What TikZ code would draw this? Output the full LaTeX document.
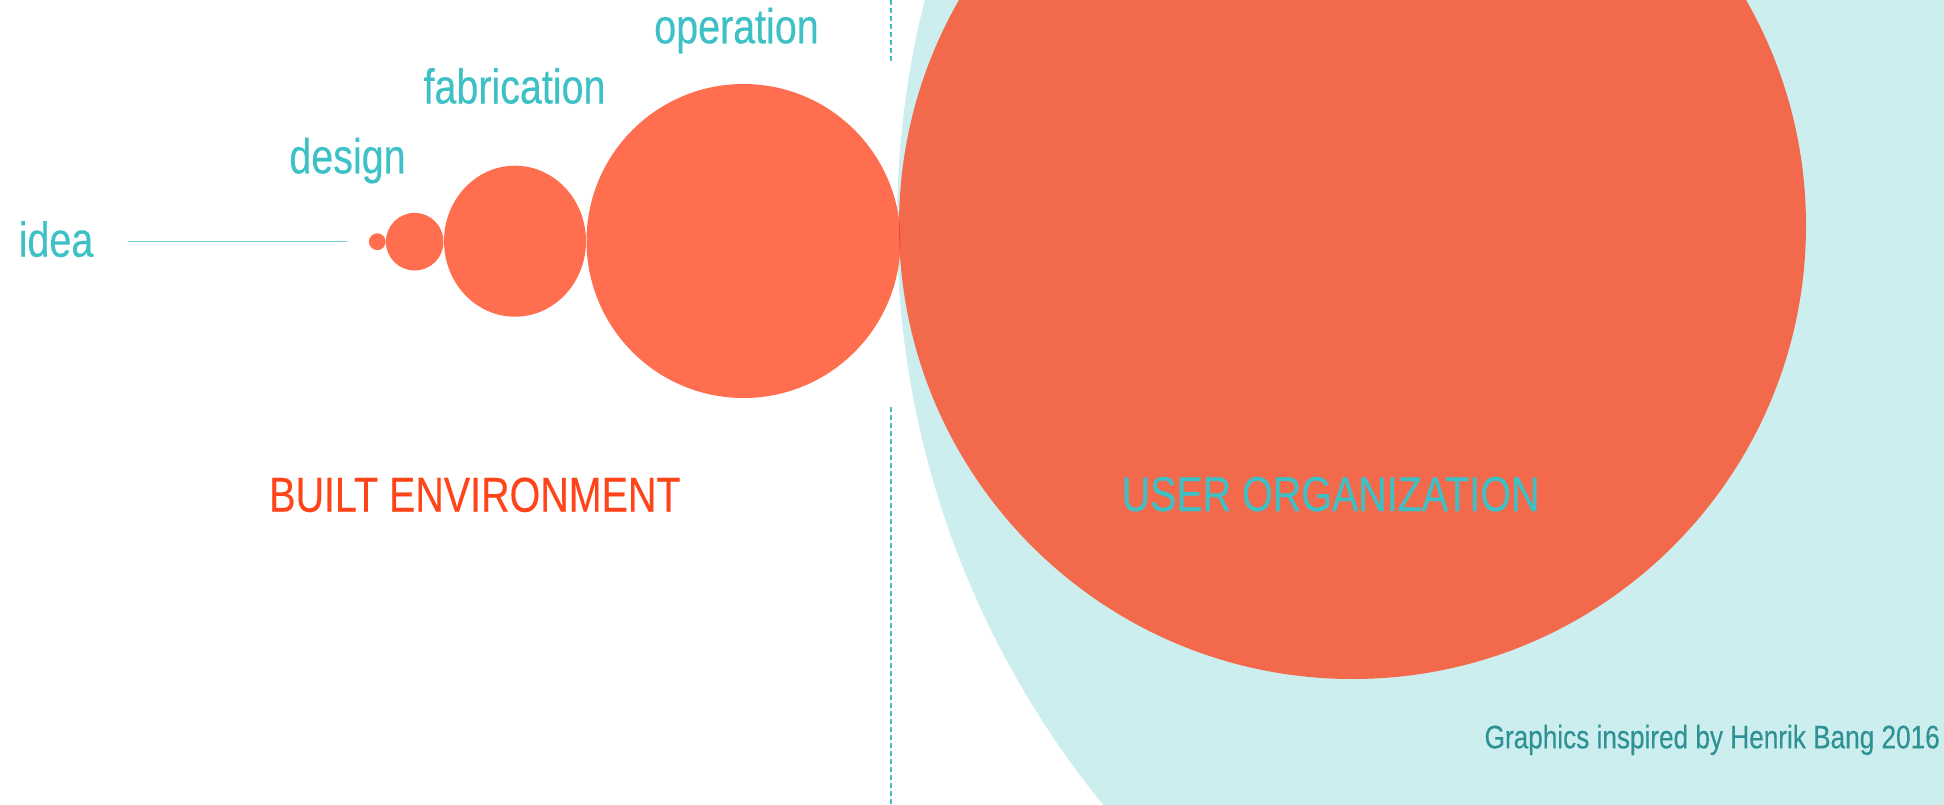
\documentclass[tikz,border=0pt]{standalone}
\usepackage{fontspec}
\setmainfont{Liberation Sans}[FakeStretch=0.805,FakeBold=0.25]
\definecolor{cyantext}{HTML}{3DC1C6}
\definecolor{cyanline}{HTML}{72D4D8}
\definecolor{cyanbg}{HTML}{CDEEEF}
\definecolor{redsmall}{HTML}{FF6E4F}
\definecolor{redbig}{HTML}{F26A4B}
\definecolor{lensred}{HTML}{F04A2C}
\definecolor{builtred}{HTML}{FF4419}
\definecolor{footer}{HTML}{2E9194}
\tikzset{
  stagelabel/.style={text=cyantext, inner sep=0pt, anchor=base, font=\fontsize{49}{59}\selectfont},
  biglabel/.style={inner sep=0pt, anchor=base, font=\fontsize{49}{59}\selectfont},
  footlabel/.style={text=footer, inner sep=0pt, anchor=base east, font=\fontsize{32.5}{39}\selectfont},
  dashline/.style={draw=cyantext, line width=1.8pt, dash pattern=on 5pt off 3pt},
  blob/.style={fill=redsmall}
}
\begin{document}
\begin{tikzpicture}[x=1pt,y=-1pt]
\useasboundingbox (0,0) rectangle (1944,804);
\clip (0,0) rectangle (1944,804);
\fill[white] (0,0) rectangle (1944,804);
% background circle
\fill[cyanbg] (1815,225) circle[radius=918];
% big circle
\fill[redbig] (1352.5,225.5) circle[radius=453.5];
% operation circle and lens
\fill[blob] (743.5,241) circle[radius=157];
\begin{scope}
  \clip (743.5,241) circle[radius=157];
  \fill[lensred] (1352.5,225.5) circle[radius=453.5];
\end{scope}
% fabrication, design, idea circles
\fill[blob] (515,241.2) ellipse[x radius=71, y radius=75.5];
\fill[blob] (414.7,241.7) circle[radius=28.8];
\fill[blob] (377.3,241.7) circle[radius=8.4];
% dashed divider
\coordinate (d1) at (890.7,0);
\coordinate (d2) at (890.7,62);
\coordinate (d3) at (890.7,407);
\coordinate (d4) at (890.7,804);
\draw[dashline] (d1) -- (d2);
\draw[dashline] (d3) -- (d4);
% idea line
\coordinate (l1) at (127.7,241.7);
\coordinate (l2) at (347.3,241.7);
\draw[cyanline, line width=1.5pt] (l1) -- (l2);
% labels
\node[stagelabel] (idea) at (56,256.7) {idea};
\node[stagelabel] (design) at (347.5,173.3) {design};
\node[stagelabel] (fabrication) at (514.5,103.5) {fabrication};
\node[stagelabel] (operation) at (736.5,43.3) {operation};
\node[biglabel, text=builtred] (built) at (474.9,511.7) {BUILT ENVIRONMENT};
\node[biglabel, text=cyantext] (user) at (1330.5,511) {USER ORGANIZATION};
\node[footlabel] (foot) at (1940,748.3) {Graphics inspired by Henrik Bang 2016};
\end{tikzpicture}
\end{document}
